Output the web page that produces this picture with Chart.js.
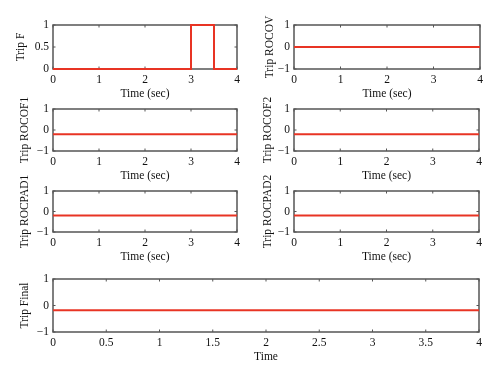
<!DOCTYPE html>
<html>
<head>
<meta charset="utf-8">
<script src="https://cdn.jsdelivr.net/npm/chart.js@4"></script>
<style>
	html, body { margin: 0; padding: 0; background: #fff; }
	#wrap { position: relative; width: 500px; height: 379px; }
	#wrap canvas { position: absolute; left: 0; top: 0; }
</style>
</head>
<body>
<div id="wrap"></div>
<script>
// data
var tripFTime = [0, 3, 3, 3.5, 3.5, 4];
var tripFValue = [0, 0, 1, 1, 0, 0];
var flatTime = [0, 4];
var tripROCOV = [0, 0];
var tripROCOF1 = [-0.2, -0.2];
var tripROCOF2 = [-0.2, -0.2];
var tripROCPAD1 = [-0.2, -0.2];
var tripROCPAD2 = [-0.2, -0.2];
var tripFinal = [-0.18, -0.18];

var xTicksSec = [0, 1, 2, 3, 4];
var xTicksFinal = [0, 0.5, 1, 1.5, 2, 2.5, 3, 3.5, 4];
var yTicksF = [0, 0.5, 1];
var yTicksTrip = [-1, 0, 1];

var RED = 'rgb(232,52,36)';
var FRAME = 'rgb(85,85,85)';
var TEXT = '#111';
var FONT = '"Liberation Serif", "DejaVu Serif", serif';
var W = 500, H = 379, XH = 32;

var panels = [
	{ title: 'Trip F', t: tripFTime, v: tripFValue, yMin: 0, yMax: 1, yTicks: yTicksF, xTicks: xTicksSec, xTitle: 'Time (sec)', box: [53, 25, 237, 69], yw: 39 },
	{ title: 'Trip ROCOV', t: flatTime, v: tripROCOV, yMin: -1, yMax: 1, yTicks: yTicksTrip, xTicks: xTicksSec, xTitle: 'Time (sec)', box: [294, 25, 480, 69], yw: 31 },
	{ title: 'Trip ROCOF1', t: flatTime, v: tripROCOF1, yMin: -1, yMax: 1, yTicks: yTicksTrip, xTicks: xTicksSec, xTitle: 'Time (sec)', box: [53, 109, 237, 151], yw: 35 },
	{ title: 'Trip ROCOF2', t: flatTime, v: tripROCOF2, yMin: -1, yMax: 1, yTicks: yTicksTrip, xTicks: xTicksSec, xTitle: 'Time (sec)', box: [294, 109, 479, 151], yw: 33 },
	{ title: 'Trip ROCPAD1', t: flatTime, v: tripROCPAD1, yMin: -1, yMax: 1, yTicks: yTicksTrip, xTicks: xTicksSec, xTitle: 'Time (sec)', box: [53, 191, 237, 232], yw: 35 },
	{ title: 'Trip ROCPAD2', t: flatTime, v: tripROCPAD2, yMin: -1, yMax: 1, yTicks: yTicksTrip, xTicks: xTicksSec, xTitle: 'Time (sec)', box: [294, 191, 479, 232], yw: 33 },
	{ title: 'Trip Final', t: flatTime, v: tripFinal, yMin: -1, yMax: 1, yTicks: yTicksTrip, xTicks: xTicksFinal, xTitle: 'Time', box: [53, 279, 479, 332], yw: 35 }
];

// box round the plot area, with small ticks pointing inwards (matlab style)
var framePlugin = {
	id: 'frame',
	beforeDatasetsDraw: function(chart) {
		var a = chart.chartArea, ctx = chart.ctx;
		var xs = chart.scales.x, ys = chart.scales.y;
		ctx.save();
		ctx.strokeStyle = FRAME;
		ctx.lineWidth = 1.5;
		ctx.strokeRect(a.left, a.top, a.right - a.left, a.bottom - a.top);
		ctx.lineWidth = 1;
		ctx.beginPath();
		xs.ticks.forEach(function(t) {
			var px = xs.getPixelForValue(t.value);
			ctx.moveTo(px, a.bottom); ctx.lineTo(px, a.bottom - 2.5);
			ctx.moveTo(px, a.top); ctx.lineTo(px, a.top + 2.5);
		});
		ys.ticks.forEach(function(t) {
			var py = ys.getPixelForValue(t.value);
			ctx.moveTo(a.left, py); ctx.lineTo(a.left + 2.5, py);
			ctx.moveTo(a.right, py); ctx.lineTo(a.right - 2.5, py);
		});
		ctx.stroke();
		ctx.restore();
	}
};

function fmt(v) {
	return v < 0 ? '\u2212' + Math.abs(v) : String(v);
}

var wrap = document.getElementById('wrap');

panels.forEach(function(p) {
	var canvas = document.createElement('canvas');
	canvas.width = W;
	canvas.height = H;
	wrap.appendChild(canvas);

	var points = p.t.map(function(t, i) { return { x: t, y: p.v[i] }; });

	new Chart(canvas.getContext('2d'), {
		type: 'line',
		data: {
			datasets: [{
				data: points,
				borderColor: RED,
				borderWidth: 2,
				pointRadius: 0,
				tension: 0,
				clip: 4
			}]
		},
		options: {
			responsive: false,
			animation: false,
			devicePixelRatio: 1,
			events: [],
			layout: {
				padding: {
					left: p.box[0] - p.yw,
					top: p.box[1],
					right: W - p.box[2],
					bottom: H - p.box[3] - XH
				}
			},
			plugins: { legend: { display: false }, tooltip: { enabled: false } },
			scales: {
				x: {
					type: 'linear',
					min: 0,
					max: 4,
					afterBuildTicks: function(s) { s.ticks = p.xTicks.map(function(v) { return { value: v }; }); },
					afterFit: function(s) { s.height = XH; },
					grid: { display: false, drawTicks: false },
					border: { display: false },
					ticks: { color: TEXT, padding: 4, maxRotation: 0, font: { family: FONT, size: 11.5 }, callback: fmt },
					title: { display: true, text: p.xTitle, color: TEXT, padding: 0, font: { family: FONT, size: 11.5 } }
				},
				y: {
					type: 'linear',
					min: p.yMin,
					max: p.yMax,
					afterBuildTicks: function(s) { s.ticks = p.yTicks.map(function(v) { return { value: v }; }); },
					afterFit: function(s) { s.width = p.yw; },
					grid: { display: false, drawTicks: false },
					border: { display: false },
					ticks: { color: TEXT, padding: 4, font: { family: FONT, size: 11.5 }, callback: fmt },
					title: { display: true, text: p.title, color: TEXT, padding: 0, font: { family: FONT, size: 11.5 } }
				}
			}
		},
		plugins: [framePlugin]
	});
});
</script>
</body>
</html>
